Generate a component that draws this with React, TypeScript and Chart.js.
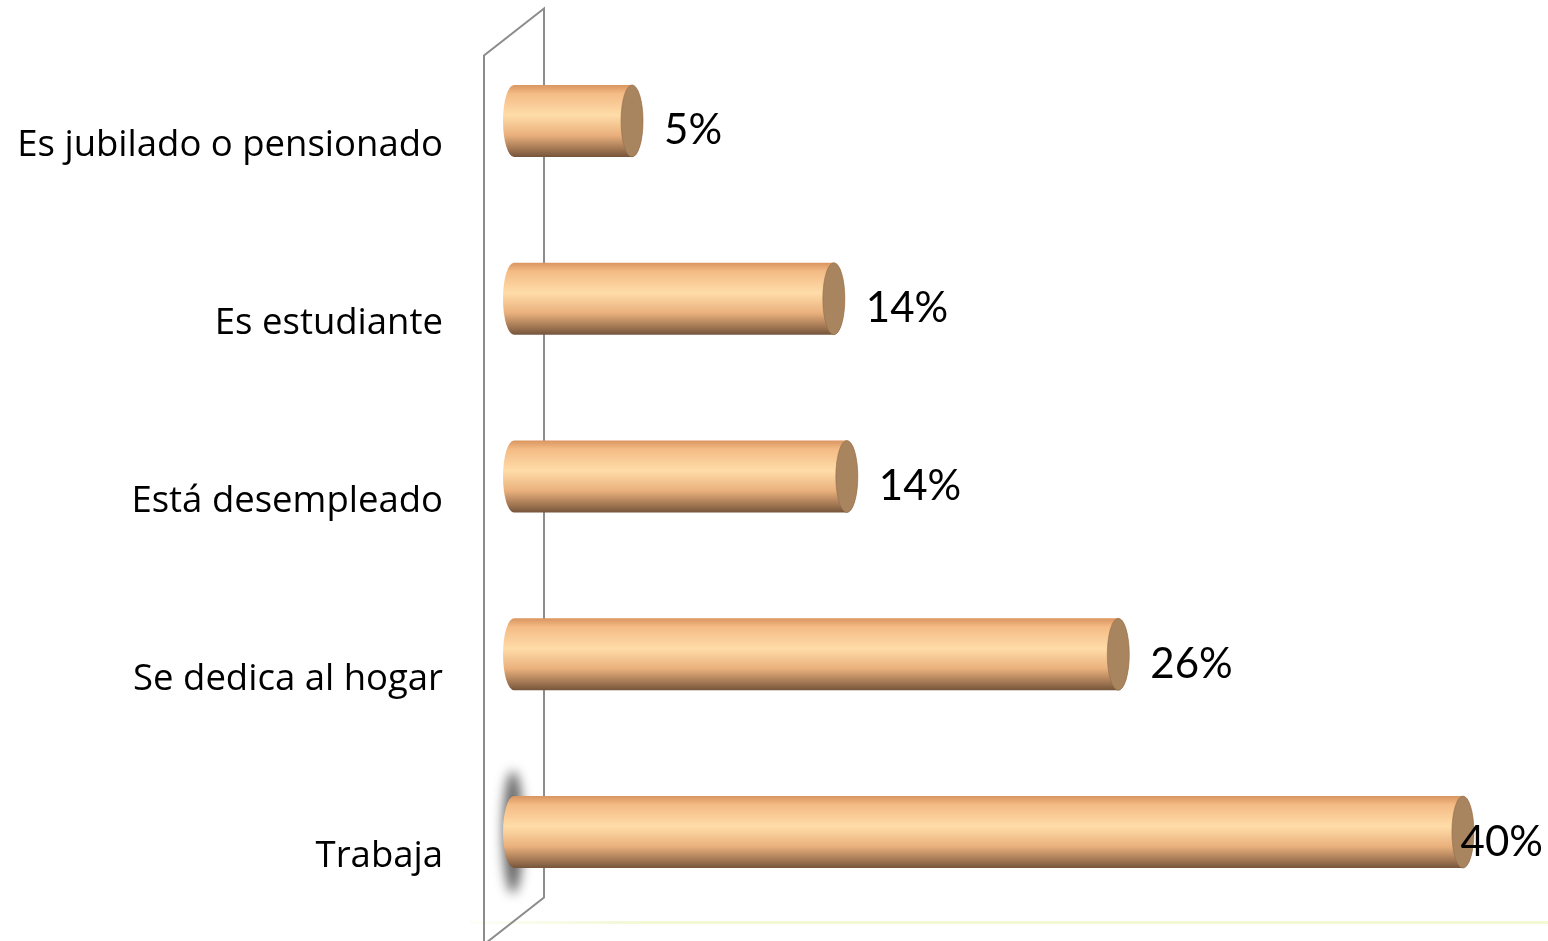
import React, { useEffect, useRef } from "react";
import { Chart, registerables } from "chart.js";

Chart.register(...registerables);

const categories = [
  "Es jubilado o pensionado",
  "Es estudiante",
  "Está desempleado",
  "Se dedica al hogar",
  "Trabaja",
];
const values = [5.0, 13.55, 14.1, 25.6, 40.2];
const valueLabels = ["5%", "14%", "14%", "26%", "40%"];
const xMax = 43;

const CAT_FONT = "'Open Sans', 'Noto Sans', sans-serif";
const VAL_FONT = "Lato, 'Open Sans', sans-serif";

const wallPlugin = {
  id: "wall",
  beforeDatasetsDraw(chart: any) {
    const { ctx, chartArea } = chart;
    const cx = chartArea.left;
    const dx = 30;
    const dy = 23.5;
    const top = chartArea.top;
    const bottom = chartArea.bottom;
    ctx.save();
    const g = ctx.createLinearGradient(cx - 44, 0, cx + 120, 0);
    g.addColorStop(0, "rgba(245,248,215,0.2)");
    g.addColorStop(1, "rgba(242,247,210,0.9)");
    ctx.strokeStyle = g;
    ctx.lineWidth = 3;
    ctx.beginPath();
    ctx.moveTo(cx - 44, bottom + 1.5);
    ctx.lineTo(chart.width, bottom + 1.5);
    ctx.stroke();
    ctx.strokeStyle = "#8c8c8c";
    ctx.lineWidth = 2;
    ctx.beginPath();
    ctx.moveTo(cx - dx, bottom + dy);
    ctx.lineTo(cx - dx, top + dy);
    ctx.lineTo(cx + dx, top - dy);
    ctx.lineTo(cx + dx, bottom - dy);
    ctx.closePath();
    ctx.stroke();
    ctx.restore();
  },
};

const cylinderPlugin = {
  id: "cylinders",
  afterDatasetsDraw(chart: any) {
    const { ctx } = chart;
    const meta = chart.getDatasetMeta(0);
    const rx = 11;
    ctx.save();
    meta.data.forEach((bar: any, i: number) => {
      const h = bar.height;
      const y0 = bar.y - h / 2;
      const x0 = bar.base;
      const x1 = bar.x;
      const ry = h / 2;
      if (i === meta.data.length - 1) {
        ctx.save();
        ctx.filter = "blur(6px)";
        ctx.fillStyle = "rgba(80,80,80,0.9)";
        ctx.beginPath();
        ctx.ellipse(x0 - 1, bar.y, 10, h * 0.85, 0, 0, Math.PI * 2);
        ctx.fill();
        ctx.restore();
      }
      const grad = ctx.createLinearGradient(0, y0, 0, y0 + h);
      grad.addColorStop(0, "#d99560");
      grad.addColorStop(0.12, "#f4bb85");
      grad.addColorStop(0.42, "#ffdca8");
      grad.addColorStop(0.7, "#e9b07c");
      grad.addColorStop(0.9, "#9e7451");
      grad.addColorStop(1, "#75553b");
      ctx.fillStyle = grad;
      ctx.beginPath();
      ctx.ellipse(x0, bar.y, rx, ry, 0, Math.PI / 2, (Math.PI * 3) / 2);
      ctx.lineTo(x1, y0);
      ctx.ellipse(x1, bar.y, rx, ry, 0, -Math.PI / 2, Math.PI / 2);
      ctx.closePath();
      ctx.fill();
      ctx.fillStyle = "#a8845f";
      ctx.beginPath();
      ctx.ellipse(x1, bar.y, rx, ry, 0, 0, Math.PI * 2);
      ctx.fill();
      ctx.strokeStyle = "rgba(150,110,75,0.6)";
      ctx.lineWidth = 1;
      ctx.stroke();
    });
    ctx.fillStyle = "#000";
    ctx.font = `42px ${VAL_FONT}`;
    ctx.textBaseline = "middle";
    ctx.textAlign = "left";
    meta.data.forEach((bar: any, i: number) => {
      const text = valueLabels[i];
      const w = ctx.measureText(text).width;
      let x = bar.x + 32;
      if (x + w > chart.width - 5) x = chart.width - 5 - w;
      ctx.fillText(text, x, bar.y + 10);
    });
    ctx.restore();
  },
};

export default function App() {
  const ref = useRef<HTMLCanvasElement>(null);
  useEffect(() => {
    if (!ref.current) return;
    const chart = new Chart(ref.current, {
      type: "bar",
      data: {
        labels: categories,
        datasets: [
          {
            data: values,
            backgroundColor: "rgba(0,0,0,0)",
            borderWidth: 0,
            barPercentage: 0.405,
            categoryPercentage: 1,
          },
        ],
      },
      options: {
        indexAxis: "y",
        responsive: false,
        animation: false,
        layout: { padding: { top: 32, bottom: 20, right: 19, left: 0 } },
        plugins: {
          legend: { display: false },
          tooltip: { enabled: false },
        },
        scales: {
          x: {
            display: false,
            min: 0,
            max: xMax,
          },
          y: {
            grid: { display: false, drawTicks: false },
            border: { display: false },
            afterFit: (axis: any) => {
              axis.width = 514;
              axis.paddingTop = 0;
              axis.paddingBottom = 0;
            },
            ticks: {
              padding: 71,
              labelOffset: 25,
              color: "#000",
              font: { family: CAT_FONT, size: 36.5 },
            },
          },
        },
      },
      plugins: [wallPlugin, cylinderPlugin],
    });
    return () => chart.destroy();
  }, []);
  return (
    <div style={{ position: "absolute", left: 0, top: 0, width: 1548, height: 941, background: "#fff" }}>
      <canvas ref={ref} width={1548} height={941} style={{ display: "block" }} />
    </div>
  );
}
